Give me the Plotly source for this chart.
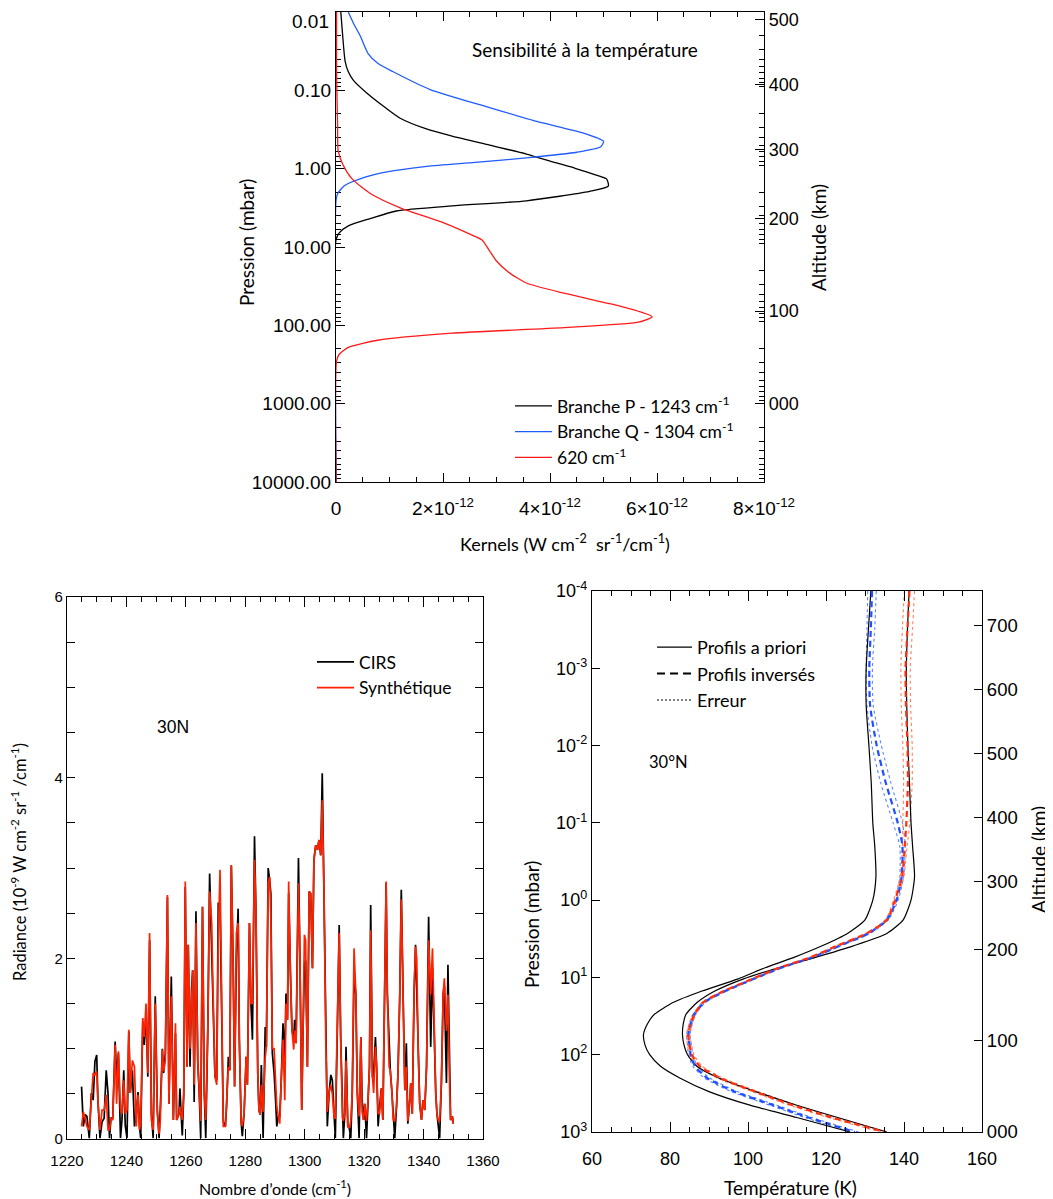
import plotly.graph_objects as go

W, H = 1053, 1199
OFF = 8                      # page body margin of the html page
WF, HF = W - OFF, H - OFF    # figure size so that it fits in the window

# ---------------- Top panel: temperature kernels ----------------
p_branchP = [0.01, 0.0202, 0.0423, 0.058, 0.0753, 0.109, 0.166, 0.227, 0.311, 0.384, 0.501, 0.650,
             0.845, 0.989, 1.22, 1.36, 1.67, 1.95, 2.57, 2.99, 3.47, 4.32, 5.37, 6.61, 8.13, 10000]
k_branchP = [0.09, 0.125, 0.17, 0.23, 0.33, 0.58, 0.92, 1.20, 1.69, 2.17, 2.87, 3.56,
             4.12, 4.47, 4.88, 5.06, 5.09, 4.74, 3.56, 2.17, 1.13, 0.65, 0.23, 0.06, 0.0, 0.0]

p_branchQ = [0.01, 0.0141, 0.020, 0.0339, 0.045, 0.0575, 0.0977, 0.166, 0.251, 0.347, 0.447, 0.525,
             0.617, 0.724, 0.832, 0.933, 1.10, 1.35, 1.66, 2.09, 2.57, 10000]
k_branchQ = [0.23, 0.33, 0.45, 0.60, 0.78, 1.06, 1.76, 2.87, 3.77, 4.60, 5.00, 4.95,
             4.50, 3.60, 2.60, 1.70, 0.95, 0.45, 0.15, 0.03, 0.0, 0.0]

p_620 = [0.01, 0.0575, 0.282, 0.589, 0.891, 1.35, 2.09, 3.16, 4.79, 6.61, 8.13, 11.2, 15.1, 20.9,
         28.8, 38.9, 53.7, 66.1, 77.6, 91.2, 107, 126, 155, 191, 234, 288, 10000]
k_620 = [0.01, 0.01, 0.03, 0.04, 0.13, 0.30, 0.65, 1.20, 1.97, 2.45, 2.73, 2.87, 3.00, 3.22,
         3.56, 4.26, 5.16, 5.65, 5.91, 5.65, 4.26, 2.17, 0.78, 0.23, 0.06, 0.01, 0.0]
kernel_unit = 1e-12

press_ticks = [0.01, 0.1, 1, 10, 100, 1000, 10000]
press_labels = ["0.01", "0.10", "1.00", "10.00", "100.00", "1000.00", "10000.00"]
kern_ticks = [0, 2, 4, 6, 8]
kern_labels = ["0", "2×10<sup>-12</sup>", "4×10<sup>-12</sup>", "6×10<sup>-12</sup>", "8×10<sup>-12</sup>"]

alt_labels = ["700", "600", "500", "400", "300", "200", "100", "000"]
alt_press = [2.83e-4, 1.87e-3, 0.0126, 0.0841, 0.568, 4.3, 65.9, 1000]

# ---------------- Bottom-left: spectrum ----------------
wn = [1224.9, 1225.5, 1226.1, 1226.7, 1227.5, 1228.2, 1228.8, 1229.4, 1230.0, 1230.4, 1231.1, 1231.8,
      1232.5, 1233.2, 1233.8, 1234.3, 1234.8, 1235.4, 1236.2, 1236.7, 1237.3, 1238.0, 1238.5, 1239.1,
      1239.6, 1240.2, 1240.8, 1241.3, 1242.0, 1242.7, 1243.3, 1243.9, 1244.4, 1244.8, 1245.5, 1246.0,
      1246.6, 1247.2, 1247.8, 1248.4, 1249.0, 1249.7, 1250.4, 1251.0, 1251.4, 1252.1, 1252.5, 1253.1,
      1253.8, 1254.3,
      1255.1, 1255.8, 1256.5, 1256.9, 1257.7, 1258.0, 1258.4, 1258.8, 1259.3, 1259.8, 1260.4, 1260.8,
      1261.4, 1261.9, 1262.3, 1262.8, 1263.4, 1264.0, 1264.5, 1265.0, 1265.6, 1266.2, 1266.7, 1267.4,
      1268.0, 1268.7, 1269.0, 1269.8, 1270.4, 1270.9, 1271.5, 1272.1, 1272.6, 1273.3, 1273.7, 1274.3,
      1274.8, 1275.3, 1275.9, 1276.4, 1277.0, 1277.6, 1278.0, 1278.6, 1279.0, 1279.6, 1280.3, 1280.7,
      1281.4, 1281.9, 1282.4, 1283.1, 1283.6, 1284.2, 1284.6, 1285.0, 1285.4, 1286.0, 1286.7, 1287.1,
      1287.7, 1288.2, 1288.6, 1289.1, 1289.7, 1290.2, 1290.6, 1291.1, 1291.6, 1292.1, 1292.7, 1293.3,
      1293.7, 1294.2, 1294.6, 1295.2, 1295.7, 1296.3, 1296.6, 1297.1, 1297.9, 1298.4, 1299.0, 1299.4,
      1299.9, 1300.3, 1300.9, 1301.5, 1302.0, 1302.6, 1303.1, 1303.7, 1304.3, 1304.8, 1305.4, 1305.9,
      1306.5, 1307.1, 1307.6, 1308.2, 1308.8, 1309.3, 1309.9, 1310.3, 1311.0, 1311.6, 1312.1, 1312.7,
      1313.0, 1313.5, 1313.9, 1314.5, 1315.0, 1315.5, 1316.0, 1316.6, 1317.2, 1317.7, 1318.3, 1318.9,
      1319.3, 1319.8, 1320.2, 1320.8, 1321.3, 1321.8, 1322.2, 1322.8, 1323.2, 1323.8, 1324.2, 1324.7,
      1325.2, 1325.8, 1326.3, 1326.9, 1327.4, 1327.8, 1328.4, 1328.8, 1329.3, 1329.8, 1330.3, 1330.9,
      1331.4, 1332.0, 1332.5, 1333.1, 1333.7, 1334.2, 1334.7, 1335.2, 1335.7, 1336.2, 1336.8, 1337.3,
      1337.7, 1338.2, 1338.7, 1339.3, 1339.8, 1340.4, 1341.0, 1341.7, 1342.4, 1343.0, 1343.5, 1344.1,
      1344.5, 1345.0, 1345.4, 1346.0, 1346.6, 1347.0, 1347.7, 1348.2, 1348.8, 1349.1, 1349.7, 1350.0]

cirs = [0.58, 0.14, 0.27, 0.25, 0.01, 0.51, 0.43, 0.86, 0.93, 0.43, 0.01, 0.19,
        0.23, 0.76, 0.51, 0.01, 0.23, 0.23, 1.08, 0.69, 0.95, 0.01, 0.21, 0.76,
        0.15, 0.01, 1.19, 0.51, 0.76, 0.14, 0.28, 0.52, 0.14, 0.01, 1.30, 1.04,
        1.39, 0.69, 2.20, 0.28, 0.01, 1.58, 0.32, 0.01, 0.34, 1.00, 0.73, 0.95,
        2.68, 0.39,
        1.80, 0.21, 1.17, 0.21, 0.28, 0.56, 0.28, 0.04, 0.51, 2.79, 0.80, 2.15,
        0.80, 1.65, 1.87, 0.41, 2.52, 0.86, 0.51, 0.01, 2.57, 0.51, 0.01, 1.24,
        2.94, 2.13, 1.85, 0.69, 0.65, 2.61, 2.61, 1.24, 0.19, 0.14, 0.36, 0.91,
        0.76, 3.03, 1.98, 0.58, 2.02, 2.55, 1.10, 0.19, 0.03, 0.28, 0.91, 0.60,
        2.39, 1.50, 1.10, 3.35, 2.50, 0.73, 0.32, 0.27, 0.82, 0.01, 1.24, 1.02,
        3.00, 2.87, 2.72, 0.95, 0.73, 0.43, 0.14, 0.25, 0.25, 0.65, 1.28, 0.90,
        1.61, 1.32, 2.72, 1.83, 1.21, 1.10, 1.32, 1.06, 3.11, 1.98, 0.32, 1.13,
        1.94, 1.98, 0.80, 2.74, 2.72, 1.89, 3.09, 3.25, 3.20, 3.31, 3.14, 4.05,
        2.72, 1.06, 0.14, 0.51, 0.71, 0.65, 0.23, 0.01, 1.24, 2.37, 1.13, 0.23,
        0.01, 0.28, 1.02, 0.14, 0.12, 0.01, 0.51, 1.80, 1.61, 0.51, 0.01, 1.13,
        0.45, 0.21, 0.39, 0.01, 0.43, 0.80, 2.59, 0.69, 0.69, 1.13, 0.80, 0.14,
        0.36, 0.56, 0.21, 1.98, 2.83, 1.61, 0.95, 0.76, 0.54, 0.21, 0.01, 0.36,
        0.73, 1.61, 2.76, 1.61, 0.54, 1.06, 0.17, 0.36, 0.62, 0.28, 1.61, 2.15,
        1.65, 0.95, 0.39, 0.21, 0.43, 0.32, 0.80, 2.46, 1.02, 1.90, 1.24, 0.51,
        0.28, 0.14, 0.01, 0.62, 1.61, 1.70, 0.62, 1.93, 0.51, 0.21, 0.25, 0.17]

synth = [0.14, 0.30, 0.23, 0.14, 0.10, 0.51, 0.73, 0.71, 0.75, 0.43, 0.10, 0.32,
         0.32, 0.49, 0.10, 0.10, 0.23, 0.21, 1.04, 0.39, 0.97, 0.32, 0.28, 0.65,
         0.28, 0.32, 1.21, 0.51, 0.87, 0.80, 0.14, 0.49, 0.10, 0.17, 1.34, 1.13,
         1.50, 0.73, 2.28, 0.21, 0.10, 1.50, 0.28, 0.06, 0.21, 0.99, 0.75, 0.87,
         2.70, 0.39,
         1.58, 0.21, 1.28, 0.21, 0.28, 0.36, 0.28, 0.21, 0.51, 2.85, 0.80, 2.15,
         1.00, 1.65, 1.87, 0.60, 2.39, 0.86, 0.51, 0.20, 2.57, 0.51, 0.21, 1.24,
         2.74, 2.39, 1.85, 0.69, 0.60, 2.20, 2.98, 1.24, 0.14, 0.14, 0.36, 0.80,
         0.76, 3.03, 1.98, 0.58, 2.28, 2.39, 1.10, 0.19, 0.14, 0.28, 0.91, 0.60,
         2.39, 1.50, 1.50, 3.09, 2.50, 0.73, 0.32, 0.27, 0.60, 0.30, 0.90, 1.02,
         2.83, 2.90, 2.46, 1.00, 1.00, 0.60, 0.36, 0.25, 0.17, 0.65, 1.10, 0.43,
         1.50, 1.32, 2.85, 1.83, 1.21, 0.99, 1.20, 1.06, 2.83, 1.98, 0.32, 1.13,
         2.26, 2.20, 0.80, 2.74, 2.72, 1.89, 3.09, 3.25, 3.20, 3.31, 3.14, 3.75,
         2.72, 1.06, 0.30, 0.51, 0.60, 0.50, 0.23, 0.23, 1.24, 2.28, 1.13, 0.23,
         0.20, 0.28, 0.87, 0.14, 0.12, 0.20, 0.51, 2.11, 1.61, 0.51, 0.25, 1.13,
         0.30, 0.21, 0.39, 0.20, 0.43, 0.80, 2.31, 0.69, 0.51, 1.02, 0.80, 0.28,
         0.28, 0.56, 0.21, 1.98, 2.85, 1.61, 0.80, 0.76, 0.54, 0.21, 0.20, 0.36,
         0.73, 1.61, 2.65, 1.61, 0.54, 0.80, 0.20, 0.36, 0.62, 0.28, 1.61, 2.13,
         2.00, 0.95, 0.39, 0.21, 0.43, 0.32, 0.80, 2.20, 1.60, 2.11, 1.24, 0.51,
         0.28, 0.20, 0.20, 0.62, 1.61, 1.78, 1.20, 1.60, 0.51, 0.21, 0.25, 0.17]

# ---------------- Bottom-right: temperature profiles ----------------
p_prof = [1e-4, 3e-4, 1e-3, 3e-3, 1e-2, 3e-2, 0.1, 0.2, 0.5, 1.0, 1.8, 2.7, 3.9, 5.5, 7.5, 10.5,
          15, 21, 30, 40, 55, 75, 100, 140, 200, 300, 450, 650, 1000]
t_apriori_cold = [131.5, 130.9, 130.3, 130.3, 131.0, 131.6, 132.0, 132.5, 132.8, 132.0, 130.0, 125.5,
                  119.0, 111.8, 104.4, 97.3, 88.2, 80.9, 76.0, 74.2, 73.2, 73.6, 74.8, 77.5, 82.5,
                  90.0, 100.5, 112.5, 126.2]
t_apriori_warm = [141.3, 140.9, 140.6, 140.7, 141.0, 141.4, 141.8, 142.2, 142.7, 141.8, 139.8, 135.6,
                  127.0, 117.3, 107.8, 98.7, 91.5, 87.0, 84.1, 83.4, 83.2, 83.6, 84.5, 86.8, 92.5,
                  102.0, 112.5, 123.0, 135.6]
t_inv_cold = [131.8, 131.5, 131.1, 131.3, 133.0, 135.3, 138.4, 139.6, 139.4, 138.1, 135.6, 130.9,
              123.5, 116.5, 108.5, 101.4, 94.2, 88.8, 86.2, 85.3, 84.7, 85.0, 85.3, 86.4, 89.5,
              96.5, 106.5, 115.5, 127.4]
t_inv_warm = [141.4, 140.9, 140.4, 140.5, 140.9, 141.0, 140.6, 140.2, 139.5, 137.7, 135.6, 130.4,
              122.8, 116.0, 108.0, 101.0, 93.8, 88.5, 86.3, 85.3, 84.7, 85.0, 85.6, 87.6, 92.8,
              101.8, 111.5, 121.5, 135.1]
err_cold = [1.1, 1.0, 0.8, 0.8, 1.2, 1.3, 1.2, 0.7, 0.5, 0.4, 0.4, 0.35, 0.3, 0.3, 0.3, 0.3,
            0.3, 0.3, 0.35, 0.4, 0.45, 0.5, 0.55, 0.6, 0.7, 0.8, 0.9, 0.9, 1.0]
err_warm = [1.3, 1.3, 1.2, 1.2, 1.2, 1.1, 0.9, 0.6, 0.45, 0.4, 0.35, 0.3, 0.3, 0.3, 0.3, 0.3,
            0.3, 0.3, 0.35, 0.4, 0.45, 0.5, 0.55, 0.6, 0.7, 0.8, 0.9, 0.9, 1.0]
temp_press_ticks = [1e-4, 1e-3, 1e-2, 1e-1, 1, 10, 100, 1000]
temp_press_labels = ["10<sup>-4</sup>", "10<sup>-3</sup>", "10<sup>-2</sup>", "10<sup>-1</sup>",
                     "10<sup>0</sup>", "10<sup>1</sup>", "10<sup>2</sup>", "10<sup>3</sup>"]

# ---------------- helpers (window pixels -> paper fractions) ----------------
def dx(a, b):
    return [(a - OFF) / WF, (b - OFF) / WF]

def dy(top, bottom):
    return [1 - (bottom - OFF) / HF, 1 - (top - OFF) / HF]

def px(x):
    return (x - OFF) / WF

def py(y):
    return 1 - (y - OFF) / HF

TICKF = "Liberation Sans, Arial, sans-serif"
TEXTF = "Lato, Open Sans, sans-serif"
BLUE = "#1f5bff"
RED = "#ff1a1a"

log_minor = [m * 10 ** e for e in range(-4, 4) for m in range(2, 10)]

fig = go.Figure()

# top panel
smooth = dict(shape="spline", smoothing=0.6)
fig.add_trace(go.Scatter(x=[k * kernel_unit for k in k_branchP], y=p_branchP, mode="lines",
                         line=dict(color="black", width=1.3, **smooth), name="Branche P - 1243 cm<sup>-1</sup>",
                         xaxis="x", yaxis="y", legend="legend"))
fig.add_trace(go.Scatter(x=[k * kernel_unit for k in k_branchQ], y=p_branchQ, mode="lines",
                         line=dict(color=BLUE, width=1.3, **smooth), name="Branche Q - 1304 cm<sup>-1</sup>",
                         xaxis="x", yaxis="y", legend="legend"))
fig.add_trace(go.Scatter(x=[k * kernel_unit for k in k_620], y=p_620, mode="lines",
                         line=dict(color=RED, width=1.3, **smooth), name="620 cm<sup>-1</sup>",
                         xaxis="x", yaxis="y", legend="legend"))
fig.add_trace(go.Scatter(x=[0], y=[1], mode="lines", showlegend=False, hoverinfo="skip",
                         xaxis="x", yaxis="y2"))

# bottom-left
fig.add_trace(go.Scatter(x=wn, y=cirs, mode="lines", line=dict(color="black", width=1.7),
                         name="CIRS", xaxis="x2", yaxis="y3", legend="legend2"))
fig.add_trace(go.Scatter(x=wn, y=synth, mode="lines", line=dict(color="#ff2200", width=1.7),
                         name="Synthétique", xaxis="x2", yaxis="y3", legend="legend2"))

# bottom-right
for t, e, col in [(t_inv_cold, err_cold, "#5f85ff"), (t_inv_warm, err_warm, "#ff8060")]:
    for sgn in (-1, 1):
        fig.add_trace(go.Scatter(x=[a + sgn * b for a, b in zip(t, e)], y=p_prof, mode="lines",
                                 line=dict(color=col, width=1.1, dash="dot", **smooth), showlegend=False,
                                 xaxis="x3", yaxis="y4"))
for t in (t_apriori_cold, t_apriori_warm):
    fig.add_trace(go.Scatter(x=t, y=p_prof, mode="lines", line=dict(color="black", width=1.2, **smooth),
                             showlegend=False, xaxis="x3", yaxis="y4"))
fig.add_trace(go.Scatter(x=t_inv_cold, y=p_prof, mode="lines",
                         line=dict(color="#1f4fff", width=2.2, dash="6px,4px", **smooth),
                         showlegend=False, xaxis="x3", yaxis="y4"))
fig.add_trace(go.Scatter(x=t_inv_warm, y=p_prof, mode="lines",
                         line=dict(color="#ff3010", width=2.2, dash="6px,4px", **smooth),
                         showlegend=False, xaxis="x3", yaxis="y4"))
fig.add_trace(go.Scatter(x=[60], y=[1], mode="lines", showlegend=False, hoverinfo="skip",
                         xaxis="x3", yaxis="y5"))
# legend entries for the profile panel
fig.add_trace(go.Scatter(x=[None], y=[None], mode="lines", line=dict(color="black", width=1.2),
                         name="Profils a priori", xaxis="x3", yaxis="y4", legend="legend3"))
fig.add_trace(go.Scatter(x=[None], y=[None], mode="lines",
                         line=dict(color="black", width=2, dash="8px,5px"),
                         name="Profils inversés", xaxis="x3", yaxis="y4", legend="legend3"))
fig.add_trace(go.Scatter(x=[None], y=[None], mode="lines",
                         line=dict(color="black", width=1, dash="2px,2px"),
                         name="Erreur", xaxis="x3", yaxis="y4", legend="legend3"))

axis_common = dict(showline=True, linecolor="black", linewidth=1.3, showgrid=False, zeroline=False,
                   ticks="inside", tickcolor="black", tickwidth=1.2, automargin=False)

# the top tick label of the kernel panel is drawn lower (as in the figure), so it is an annotation
top_press_text = [""] + press_labels[1:]

fig.update_layout(
    template="none",
    width=WF, height=HF, margin=dict(l=0, r=0, t=0, b=0, pad=0), autosize=False,
    paper_bgcolor="white", plot_bgcolor="white",
    xaxis=dict(axis_common, domain=dx(336, 764), anchor="y", range=[0, 8e-12],
               tickvals=[k * kernel_unit for k in kern_ticks], ticktext=kern_labels, ticklen=9,
               mirror="ticks", tickfont=dict(family=TICKF, size=19, color="black"),
               ticklabelstandoff=9,
               minor=dict(ticks="inside", ticklen=4.5, tickcolor="black",
                          tickvals=[i * 0.5 * kernel_unit for i in range(17)])),
    yaxis=dict(axis_common, domain=dy(12, 482), anchor="x", type="log", range=[4, -2],
               tickvals=press_ticks, ticktext=top_press_text, ticklen=9, layer="below traces",
               tickfont=dict(family=TICKF, size=19, color="black"),
               minor=dict(ticks="inside", ticklen=4.5, tickcolor="black", tickvals=log_minor)),
    yaxis2=dict(axis_common, overlaying="y", anchor="x", side="right", type="log", range=[4, -2],
                tickvals=alt_press[2:], ticktext=alt_labels[2:], ticklen=9,
                tickfont=dict(family=TICKF, size=18, color="black"),
                minor=dict(ticks="inside", ticklen=4.5, tickcolor="black", tickvals=log_minor)),
    xaxis2=dict(axis_common, domain=dx(67, 483), anchor="y3", range=[1220, 1360], dtick=20,
                tick0=1220, ticklen=10, mirror="ticks", ticklabelstandoff=8,
                tickfont=dict(family=TICKF, size=15, color="black"),
                minor=dict(ticks="inside", ticklen=5, tickcolor="black", dtick=5)),
    yaxis3=dict(axis_common, domain=dy(597, 1139), anchor="x2", range=[0, 6],
                tickvals=[0, 2, 4, 6], ticklen=8, mirror="ticks",
                tickfont=dict(family=TICKF, size=15, color="black"),
                minor=dict(ticks="inside", ticklen=8, tickcolor="black", dtick=0.5)),
    xaxis3=dict(axis_common, domain=dx(592, 982), anchor="y4", range=[60, 160], dtick=20,
                tick0=60, ticklen=10, mirror="ticks", ticklabelstandoff=10,
                tickfont=dict(family=TICKF, size=18, color="black"),
                minor=dict(ticks="inside", ticklen=5, tickcolor="black", dtick=5)),
    yaxis4=dict(axis_common, domain=dy(591, 1132), anchor="x3", type="log", range=[3, -4],
                tickvals=temp_press_ticks, ticktext=temp_press_labels, ticklen=8,
                tickfont=dict(family=TICKF, size=18, color="black")),
    yaxis5=dict(axis_common, overlaying="y4", anchor="x3", side="right", type="log", range=[3, -4],
                tickvals=alt_press, ticktext=alt_labels, ticklen=8,
                tickfont=dict(family=TICKF, size=18.5, color="black")),
    legend=dict(x=px(510), y=py(388), xanchor="left", yanchor="top", bgcolor="rgba(0,0,0,0)",
                font=dict(family=TEXTF, size=17.5, color="black"), tracegroupgap=0, itemwidth=37),
    legend2=dict(x=px(312), y=py(644), xanchor="left", yanchor="top", bgcolor="rgba(0,0,0,0)",
                 font=dict(family=TEXTF, size=17.5, color="black"), tracegroupgap=0, itemwidth=37),
    legend3=dict(x=px(652), y=py(629), xanchor="left", yanchor="top", bgcolor="rgba(0,0,0,0)",
                 font=dict(family=TEXTF, size=18, color="black"), tracegroupgap=0, itemwidth=35),
)

def ann(text, x, y, size=17, family=TEXTF, angle=0, xanchor="center"):
    fig.add_annotation(text=text, x=px(x), y=py(y), xref="paper", yref="paper",
                       showarrow=False, textangle=angle, xanchor=xanchor, yanchor="middle",
                       font=dict(family=family, size=size, color="black"))

ann(press_labels[0], 331, 21, 19, family=TICKF, xanchor="right")
ann("Sensibilité à la température", 585, 49, 19)
ann("Pression (mbar)", 246, 243, 19, angle=-90)
ann("Altitude (km)", 818, 238, 19, angle=-90)
ann("Kernels (W cm<sup>-2</sup>  sr<sup>-1</sup>/cm<sup>-1</sup>)", 565, 543, 18)
ann("30N", 173, 727, 17.5, family=TICKF)
ann("Radiance (10<sup>-9</sup> W cm<sup>-2</sup> sr<sup>-1</sup> /cm<sup>-1</sup>)", 19, 862, 16.5, angle=-90)
ann("Nombre d’onde (cm<sup>-1</sup>)", 275, 1187, 16)
ann("30°N", 668, 762, 16.5)
ann("Pression (mbar)", 531, 925, 19, angle=-90)
ann("Altitude (km)", 1038, 860, 19, angle=-90)
ann("Température (K)", 790, 1187, 19)

fig.write_html("out.html")
